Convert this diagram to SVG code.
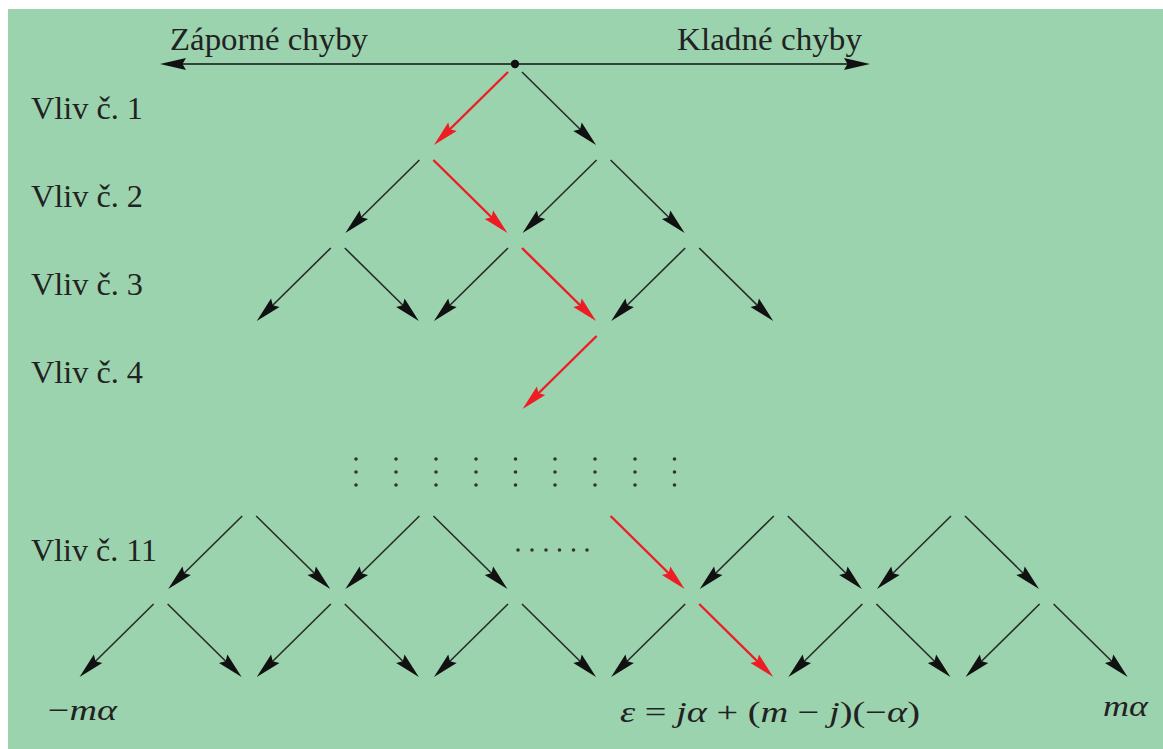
<svg xmlns="http://www.w3.org/2000/svg" width="1163" height="749" viewBox="0 0 1163 749">
<style>
.lbl{font-family:"Liberation Serif","DejaVu Serif","Times New Roman",serif;font-size:31px;fill:#222}
.math{font-family:"Liberation Serif","DejaVu Serif","Times New Roman",serif;font-size:30px;fill:#222}
.it{font-style:italic}
.blk{stroke:#2a2a2a;stroke-width:1.6;fill:none;marker-end:url(#hb)}
.red{stroke:#ee1d23;stroke-width:2.4;fill:none;marker-end:url(#hr)}
.dot{fill:#333}
</style>
<defs>
<marker id="hb" markerUnits="userSpaceOnUse" viewBox="-20 -8 30 16" refX="0" refY="0" markerWidth="30" markerHeight="16" orient="auto">
<path d="M8.5,0 L-17.5,-6 L-14,0 L-17.5,6 Z" fill="#111"/>
</marker>
<marker id="hr" markerUnits="userSpaceOnUse" viewBox="-20 -8 30 16" refX="0" refY="0" markerWidth="30" markerHeight="16" orient="auto">
<path d="M8.5,0 L-17.5,-6 L-14,0 L-17.5,6 Z" fill="#ee1d23"/>
</marker>
<marker id="ha" markerUnits="userSpaceOnUse" viewBox="-20 -8 30 16" refX="0" refY="0" markerWidth="30" markerHeight="16" orient="auto-start-reverse">
<path d="M8.5,0 L-17.5,-6 L-14,0 L-17.5,6 Z" fill="#111"/>
</marker>
</defs>
<rect x="0" y="0" width="1163" height="749" fill="#ffffff"/>
<rect x="8" y="9" width="1155" height="740" fill="#9bd3ae"/>

<g id="axis">
<line x1="168.5" y1="64" x2="861.5" y2="64" stroke="#111" stroke-width="1.6" marker-start="url(#ha)" marker-end="url(#ha)"/>
<circle cx="515" cy="64" r="4.2" fill="#111"/>
<text class="lbl" x="170" y="50" textLength="198" lengthAdjust="spacingAndGlyphs">Záporné chyby</text>
<text class="lbl" x="677" y="50" textLength="185" lengthAdjust="spacingAndGlyphs">Kladné chyby</text>
</g>

<g id="labels">
<text class="lbl" x="31" y="119" textLength="112" lengthAdjust="spacingAndGlyphs">Vliv č. 1</text>
<text class="lbl" x="31" y="207" textLength="112" lengthAdjust="spacingAndGlyphs">Vliv č. 2</text>
<text class="lbl" x="31" y="295" textLength="112" lengthAdjust="spacingAndGlyphs">Vliv č. 3</text>
<text class="lbl" x="31" y="383" textLength="112" lengthAdjust="spacingAndGlyphs">Vliv č. 4</text>
<text class="lbl" x="31" y="561" textLength="126" lengthAdjust="spacingAndGlyphs">Vliv č. 11</text>
</g>

<g id="connectors">
<line class="red" x1="508" y1="72" x2="440" y2="139"/>
<line class="blk" x1="522" y1="72" x2="590" y2="139"/>
<line class="blk" x1="419.4" y1="160" x2="351.4" y2="227"/>
<line class="red" x1="433.4" y1="160" x2="501.4" y2="227"/>
<line class="blk" x1="596.6" y1="160" x2="528.6" y2="227"/>
<line class="blk" x1="610.6" y1="160" x2="678.6" y2="227"/>
<line class="blk" x1="330.8" y1="248" x2="262.8" y2="315"/>
<line class="blk" x1="344.8" y1="248" x2="412.8" y2="315"/>
<line class="blk" x1="508" y1="248" x2="440" y2="315"/>
<line class="red" x1="522" y1="248" x2="590" y2="315"/>
<line class="blk" x1="685.2" y1="248" x2="617.2" y2="315"/>
<line class="blk" x1="699.2" y1="248" x2="767.2" y2="315"/>
<line class="red" x1="596.6" y1="336" x2="528.6" y2="403"/>
<line class="blk" x1="242.2" y1="516" x2="174.2" y2="583"/>
<line class="blk" x1="256.2" y1="516" x2="324.2" y2="583"/>
<line class="blk" x1="419.4" y1="516" x2="351.4" y2="583"/>
<line class="blk" x1="433.4" y1="516" x2="501.4" y2="583"/>
<line class="red" x1="610.6" y1="516" x2="678.6" y2="583"/>
<line class="blk" x1="773.8" y1="516" x2="705.8" y2="583"/>
<line class="blk" x1="787.8" y1="516" x2="855.8" y2="583"/>
<line class="blk" x1="951" y1="516" x2="883" y2="583"/>
<line class="blk" x1="965" y1="516" x2="1033" y2="583"/>
<line class="blk" x1="153.6" y1="604" x2="85.6" y2="671"/>
<line class="blk" x1="167.6" y1="604" x2="235.6" y2="671"/>
<line class="blk" x1="330.8" y1="604" x2="262.8" y2="671"/>
<line class="blk" x1="344.8" y1="604" x2="412.8" y2="671"/>
<line class="blk" x1="508" y1="604" x2="440" y2="671"/>
<line class="blk" x1="522" y1="604" x2="590" y2="671"/>
<line class="blk" x1="685.2" y1="604" x2="617.2" y2="671"/>
<line class="red" x1="699.2" y1="604" x2="767.2" y2="671"/>
<line class="blk" x1="862.4" y1="604" x2="794.4" y2="671"/>
<line class="blk" x1="876.4" y1="604" x2="944.4" y2="671"/>
<line class="blk" x1="1039.6" y1="604" x2="971.6" y2="671"/>
<line class="blk" x1="1053.6" y1="604" x2="1121.6" y2="671"/>
</g>

<g id="vdots">
<circle class="dot" cx="356" cy="459" r="1.8"/><circle class="dot" cx="356" cy="472" r="1.8"/><circle class="dot" cx="356" cy="485" r="1.8"/>
<circle class="dot" cx="396" cy="459" r="1.8"/><circle class="dot" cx="396" cy="472" r="1.8"/><circle class="dot" cx="396" cy="485" r="1.8"/>
<circle class="dot" cx="436" cy="459" r="1.8"/><circle class="dot" cx="436" cy="472" r="1.8"/><circle class="dot" cx="436" cy="485" r="1.8"/>
<circle class="dot" cx="476" cy="459" r="1.8"/><circle class="dot" cx="476" cy="472" r="1.8"/><circle class="dot" cx="476" cy="485" r="1.8"/>
<circle class="dot" cx="515.5" cy="459" r="1.8"/><circle class="dot" cx="515.5" cy="472" r="1.8"/><circle class="dot" cx="515.5" cy="485" r="1.8"/>
<circle class="dot" cx="555" cy="459" r="1.8"/><circle class="dot" cx="555" cy="472" r="1.8"/><circle class="dot" cx="555" cy="485" r="1.8"/>
<circle class="dot" cx="595" cy="459" r="1.8"/><circle class="dot" cx="595" cy="472" r="1.8"/><circle class="dot" cx="595" cy="485" r="1.8"/>
<circle class="dot" cx="635" cy="459" r="1.8"/><circle class="dot" cx="635" cy="472" r="1.8"/><circle class="dot" cx="635" cy="485" r="1.8"/>
<circle class="dot" cx="674.5" cy="459" r="1.8"/><circle class="dot" cx="674.5" cy="472" r="1.8"/><circle class="dot" cx="674.5" cy="485" r="1.8"/>
</g>
<g id="hdots">
<circle class="dot" cx="518" cy="550" r="1.8"/><circle class="dot" cx="532" cy="550" r="1.8"/><circle class="dot" cx="546" cy="550" r="1.8"/>
<circle class="dot" cx="559.5" cy="550" r="1.8"/><circle class="dot" cx="573.5" cy="550" r="1.8"/><circle class="dot" cx="587" cy="550" r="1.8"/>
</g>

<g id="bottom-labels">
<text class="math" x="48" y="720" textLength="69" lengthAdjust="spacingAndGlyphs">−<tspan class="it">mα</tspan></text>
<text class="math" x="620" y="722" textLength="300" lengthAdjust="spacingAndGlyphs"><tspan class="it">ε</tspan> = <tspan class="it">jα</tspan> + (<tspan class="it">m</tspan> − <tspan class="it">j</tspan>)(−<tspan class="it">α</tspan>)</text>
<text class="math it" x="1103" y="716" textLength="45" lengthAdjust="spacingAndGlyphs">mα</text>
</g>
</svg>
